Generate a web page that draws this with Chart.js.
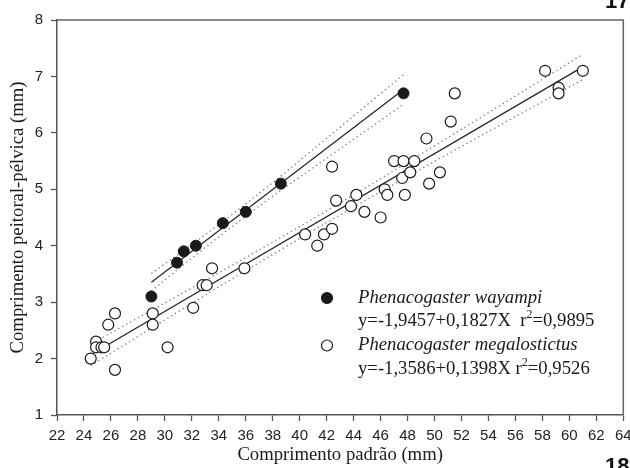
<!DOCTYPE html>
<html>
<head>
<meta charset="utf-8">
<script src="https://cdn.jsdelivr.net/npm/chart.js@4.4.1/dist/chart.umd.min.js"></script>
<style>
  html, body { margin: 0; padding: 0; background: #fff; }
  #wrap { width: 630px; height: 468px; position: relative; }
</style>
</head>
<body>
<div id="wrap"><canvas id="scatter"></canvas></div>
<script>
// Phenacogaster wayampi (filled markers)
const wayampiX = [29.0, 30.9, 31.4, 32.3, 34.3, 36.0, 38.6, 47.7];
const wayampiY = [3.1, 3.7, 3.9, 4.0, 4.4, 4.6, 5.1, 6.7];

// Phenacogaster megalostictus (open markers)
const megaX = [24.5, 24.9, 24.9, 25.3, 25.5, 25.8, 26.3, 26.3, 29.1, 29.1,
               30.2, 32.1, 32.8, 33.1, 33.5, 35.9, 40.4, 41.3, 41.8, 42.4,
               42.4, 42.7, 43.8, 44.2, 44.8, 46.0, 46.3, 46.5, 47.0, 47.6,
               47.7, 47.8, 48.2, 48.5, 49.4, 49.6, 50.4, 51.2, 51.5, 58.2,
               59.2, 59.2, 61.0];
const megaY = [2.0, 2.3, 2.2, 2.2, 2.2, 2.6, 2.8, 1.8, 2.8, 2.6,
               2.2, 2.9, 3.3, 3.3, 3.6, 3.6, 4.2, 4.0, 4.2, 4.3,
               5.4, 4.8, 4.7, 4.9, 4.6, 4.5, 5.0, 4.9, 5.5, 5.2,
               5.5, 4.9, 5.3, 5.5, 5.9, 5.1, 5.3, 6.2, 6.7, 7.1,
               6.8, 6.7, 7.1];

// regression coefficients (intercept, slope) and r^2
const wayampiFit = { a: -1.9457, b: 0.1827, r2: 0.9895 };
const megaFit = { a: -1.3586, b: 0.1398, r2: 0.9526 };

// axis ranges
const xRange = { min: 22, max: 64, step: 2 };
const yRange = { min: 1, max: 8, step: 1 };

// two-sided 95% t values by degrees of freedom
const tCrit = { 6: 2.447, 41: 2.020 };

const serif = '"Liberation Serif", "Times New Roman", serif';
const sans = '"Liberation Sans", Arial, sans-serif';

const toPoints = (xs, ys) => xs.map((x, i) => ({ x: x, y: ys[i] }));

/**
 * Fitted line over the observed x range
 */
const fitLine = (xs, fit) => {
  const lo = Math.min(...xs), hi = Math.max(...xs);
  return [{ x: lo, y: fit.a + fit.b * lo }, { x: hi, y: fit.a + fit.b * hi }];
};

/**
 * 95% confidence band of the fitted mean, evaluated at each observed x
 * @param {Number} sign +1 upper, -1 lower
 */
const confBand = (xs, ys, fit, sign) => {
  const n = xs.length;
  const xbar = xs.reduce((s, v) => s + v, 0) / n;
  const sxx = xs.reduce((s, v) => s + (v - xbar) ** 2, 0);
  const sse = xs.reduce((s, v, i) => s + (ys[i] - (fit.a + fit.b * v)) ** 2, 0);
  const se = Math.sqrt(sse / (n - 2));
  const t = tCrit[n - 2];
  const uniq = [...new Set(xs)].sort((p, q) => p - q);
  return uniq.map(x => ({
    x: x,
    y: fit.a + fit.b * x + sign * t * se * Math.sqrt(1 / n + (x - xbar) ** 2 / sxx)
  }));
};

const lineStyle = {
  type: "line", showLine: true, pointRadius: 0, fill: false,
  borderColor: "#222", borderWidth: 1.2, order: 2
};
const dotStyle = {
  type: "line", showLine: true, pointRadius: 0, fill: false,
  borderColor: "#777", borderWidth: 1.3, borderDash: [1.3, 3.2], order: 2
};

const fmt = v => v.toFixed(4).replace(".", ",");

// legend entries drawn inside the plot area
const legendEntries = [
  { name: "Phenacogaster wayampi", fit: wayampiFit, sep: "  ", filled: true },
  { name: "Phenacogaster megalostictus", fit: megaFit, sep: " ", filled: false }
];

const extrasPlugin = {
  id: "extras",
  afterDraw(chart) {
    const { ctx, chartArea: a } = chart;
    ctx.save();
    // top and right frame
    ctx.strokeStyle = "#666";
    ctx.lineWidth = 1.5;
    ctx.beginPath();
    ctx.moveTo(a.left, a.top);
    ctx.lineTo(a.right, a.top);
    ctx.lineTo(a.right, a.bottom);
    ctx.stroke();

    // legend
    const mx = 327, tx = 358;
    let y = 298;
    ctx.textBaseline = "middle";
    ctx.textAlign = "left";
    for (const e of legendEntries) {
      ctx.beginPath();
      ctx.arc(mx, y, 5.5, 0, Math.PI * 2);
      ctx.fillStyle = e.filled ? "#1a1a1a" : "#fff";
      ctx.fill();
      ctx.strokeStyle = "#1a1a1a";
      ctx.lineWidth = 1.2;
      ctx.stroke();

      ctx.fillStyle = "#1a1a1a";
      ctx.font = "italic 18.7px " + serif;
      ctx.fillText(e.name, tx, y);

      const eq = y + 23.5;
      ctx.font = "18.7px " + serif;
      let s = "y=" + fmt(e.fit.a) + "+" + fmt(e.fit.b) + "X" + e.sep + "r";
      ctx.fillText(s, tx, eq);
      let w = ctx.measureText(s).width;
      ctx.font = "12px " + serif;
      ctx.fillText("2", tx + w, eq - 6.5);
      w += ctx.measureText("2").width;
      ctx.font = "18.7px " + serif;
      ctx.fillText("=" + fmt(e.fit.r2), tx + w, eq);
      y += 47.5;
    }

    // figure numbers
    ctx.font = "bold 22px " + sans;
    ctx.textBaseline = "alphabetic";
    ctx.textAlign = "left";
    ctx.fillStyle = "#111";
    ctx.fillText("17", 605, 8);
    ctx.fillText("18", 605, 473);
    ctx.restore();
  }
};

new Chart(document.getElementById("scatter"), {
  type: "scatter",
  data: {
    datasets: [
      {
        label: "Phenacogaster wayampi",
        data: toPoints(wayampiX, wayampiY),
        pointRadius: 5.5, pointHoverRadius: 5.5,
        backgroundColor: "#1a1a1a", borderColor: "#1a1a1a", borderWidth: 1,
        order: 0
      },
      {
        label: "Phenacogaster megalostictus",
        data: toPoints(megaX, megaY),
        pointRadius: 5.5, pointHoverRadius: 5.5,
        backgroundColor: "#fff", borderColor: "#1a1a1a", borderWidth: 1.2,
        order: 1
      },
      { ...lineStyle, label: "fit wayampi", data: fitLine(wayampiX, wayampiFit) },
      { ...lineStyle, label: "fit megalostictus", data: fitLine(megaX, megaFit) },
      { ...dotStyle, label: "wayampi upper", data: confBand(wayampiX, wayampiY, wayampiFit, 1) },
      { ...dotStyle, label: "wayampi lower", data: confBand(wayampiX, wayampiY, wayampiFit, -1) },
      { ...dotStyle, label: "megalostictus upper", data: confBand(megaX, megaY, megaFit, 1) },
      { ...dotStyle, label: "megalostictus lower", data: confBand(megaX, megaY, megaFit, -1) }
    ]
  },
  options: {
    responsive: true,
    maintainAspectRatio: false,
    animation: false,
    layout: { padding: { left: 0, right: 6, top: 20, bottom: 0 } },
    plugins: {
      legend: { display: false },
      tooltip: { enabled: false }
    },
    scales: {
      x: {
        type: "linear",
        min: xRange.min, max: xRange.max,
        afterFit: (s) => { s.height = 53; s.paddingLeft = 0; s.paddingRight = 0; },
        ticks: {
          stepSize: xRange.step, padding: 6, color: "#222",
          maxRotation: 0, autoSkip: false,
          font: { family: sans, size: 15 }
        },
        grid: { drawOnChartArea: false, drawTicks: true, tickLength: 6, tickColor: "#555", tickWidth: 1.3 },
        border: { color: "#555", width: 1.5 },
        title: {
          display: true, text: "Comprimento padrão (mm)", color: "#1a1a1a",
          font: { family: serif, size: 18.7 }, padding: { top: 0, bottom: 2 }
        }
      },
      y: {
        type: "linear",
        min: yRange.min, max: yRange.max,
        afterFit: (s) => { s.width = 57; s.paddingTop = 0; s.paddingBottom = 0; },
        ticks: {
          stepSize: yRange.step, padding: 8, color: "#222",
          font: { family: sans, size: 15 }
        },
        grid: { drawOnChartArea: false, drawTicks: true, tickLength: 6, tickColor: "#555", tickWidth: 1.3 },
        border: { color: "#555", width: 1.5 },
        title: {
          display: true, text: "Comprimento peitoral-pélvica (mm)", color: "#1a1a1a",
          font: { family: serif, size: 18.7 }, padding: { top: 7, bottom: 0 }
        }
      }
    }
  },
  plugins: [extrasPlugin]
});
</script>
</body>
</html>
